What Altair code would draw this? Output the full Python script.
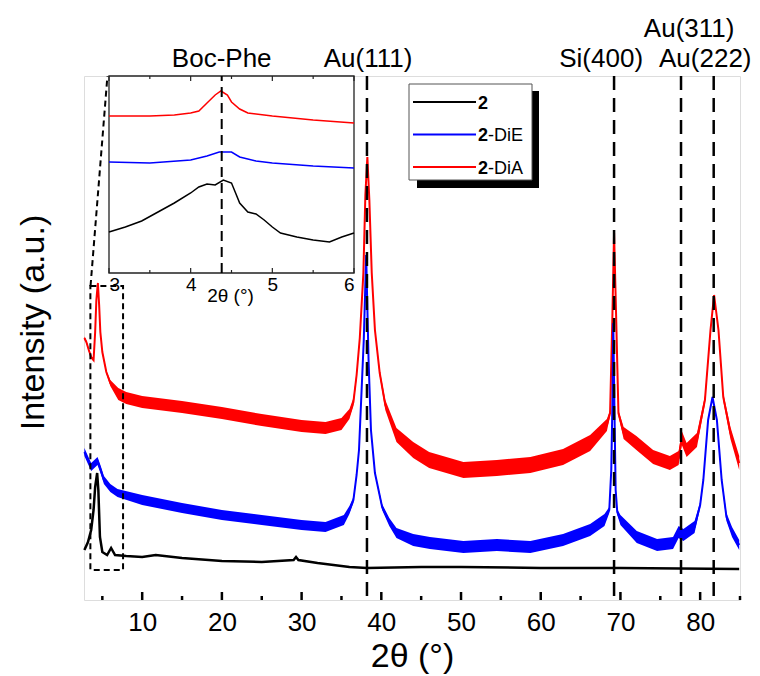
import altair as alt
import pandas as pd

FONT = "Liberation Sans"

# ---------------- main panel data (2θ in degrees, intensity in arbitrary units) ----------------
red_x = [2.75, 3.0, 3.3, 3.6, 3.9, 4.1, 4.25, 4.44, 4.6, 4.75, 5.0, 5.5, 6.0, 7.0, 8.0, 10, 15, 20, 25, 30,
         33, 35, 36.0, 36.5, 36.9, 37.3, 37.75, 38.0, 38.25, 38.5, 38.8, 39.2, 39.8, 40.5, 41.9, 44, 46,
         50.3, 54.5, 58.7, 62.8, 66.2, 68.3, 68.7, 69.0, 69.2, 69.45, 69.75, 70.4, 72, 74.1, 76.2, 77.3,
         77.7, 78.3, 79.6, 80.6, 81.3, 81.75, 82.3, 82.9, 83.8, 84.9]
red_y = [262, 258, 250, 243, 240, 268, 300, 317, 295, 268, 248, 228, 217, 206, 202, 198, 193, 187, 180, 174,
         172, 176, 186, 198, 225, 262, 327, 405, 443, 400, 327, 270, 227, 195, 165, 150, 140,
         130, 132, 135, 143, 157, 175, 187, 287, 367, 287, 187, 167, 157, 143, 137, 142,
         162, 150, 160, 200, 270, 305, 270, 203, 167, 137]
red_noise = [1.5, 1.5, 1.5, 1.5, 1.5, 1.5, 1.5, 1.5, 1.5, 1.5, 1.5, 1.5, 3, 6, 6, 6, 6, 6, 6, 6,
             6, 6, 5, 4, 3, 2, 1, 1, 1, 1, 1, 2, 3, 5, 7, 8, 8,
             8, 8, 8, 8, 8, 6, 3, 1, 1, 1, 3, 6, 7, 7, 7, 7,
             7, 7, 7, 4, 2, 1, 2, 4, 6, 7]

blue_x = [2.75, 3.2, 3.6, 4.0, 4.4, 4.8, 5.2, 6.0, 6.9, 10, 15, 20, 25, 30, 33, 35.3, 36.0, 36.5, 36.9, 37.2,
          37.5, 37.8, 38.1, 38.4, 38.7, 39.2, 40.1, 41.0, 41.9, 44, 46.1, 50.3, 54.5, 58.7, 62.8, 66.2,
          68.0, 68.6, 68.85, 69.0, 69.1, 69.25, 69.4, 69.6, 70.0, 72.05, 74.6, 76.6, 77.3, 77.9, 79.3,
          80.0, 80.4, 81.0, 81.55, 82.1, 82.7, 83.3, 84.0, 84.9]
blue_y = [148, 140, 133, 136, 139, 130, 120, 112, 107, 100, 92, 85, 80, 75, 73, 80, 90, 100, 125, 150,
          205, 260, 345, 240, 170, 127, 93, 78, 67, 60, 57, 53, 55, 53, 60, 70,
          80, 90, 130, 200, 277, 190, 110, 88, 80, 63, 55, 57, 68, 65, 73,
          95, 120, 180, 203, 180, 120, 83, 68, 55]
blue_noise = [4, 4, 4, 4, 4, 4, 4, 4, 4, 5, 5, 5, 5, 5, 5, 5, 4, 3, 2, 1,
              1, 1, 1, 1, 1, 1, 3, 4, 5, 6, 6, 6, 6, 6, 6, 6,
              6, 3, 1, 1, 1, 1, 1, 3, 5, 6, 6, 6, 6, 6, 6,
              3, 2, 1, 1, 1, 2, 4, 5, 5]

black_x = [2.75, 3.2, 3.6, 3.9, 4.1, 4.35, 4.5, 4.7, 5.0, 5.6, 6.1, 6.6, 8, 10, 11.7, 15, 20, 25, 29.0,
           29.3, 29.6, 32, 36, 38.2, 45, 50, 60, 70, 84.9]
black_y = [50, 58, 70, 90, 113, 127, 110, 63, 48, 45, 52, 45, 44, 43, 45, 42, 39, 38, 40,
           43, 40, 37, 33, 32, 33, 33, 32, 32, 31]

peak_pos = [38.2, 69.2, 77.6, 81.7]
peak_names = ["Au(111)", "Si(400)", "Au(311)", "Au(222)"]
peak_label_x = [38.33, 67.58, 78.62, 80.64]
peak_label_row = [0, 0, 1, 0]

major_ticks = [10, 20, 30, 40, 50, 60, 70, 80]
minor_ticks = [5, 15, 25, 35, 45, 55, 65, 75, 85]

zoom_box_x = [3.5, 7.6]
zoom_box_y = [30, 314]
connector_x = [3.52, 5.64]
connector_y = [314, 524]

# ---------------- inset data ----------------
ired_x = [3.0, 3.5, 3.8, 4.0, 4.1, 4.2, 4.3, 4.37, 4.45, 4.5, 4.6, 4.7, 5.0, 5.5, 6.0]
ired_y = [157, 157, 158, 160, 162, 170, 178, 182, 178, 171, 164, 160, 157, 153, 150]
iblue_x = [3.0, 3.5, 4.0, 4.2, 4.35, 4.5, 4.6, 4.8, 5.0, 5.5, 6.0]
iblue_y = [111, 110, 113, 117, 121, 121, 116, 112, 110, 107, 105]
iblack_x = [3.0, 3.2, 3.4, 3.6, 3.8, 4.0, 4.1, 4.2, 4.3, 4.4, 4.5, 4.55, 4.6, 4.7, 4.8, 4.9, 5.0,
            5.1, 5.3, 5.5, 5.7, 5.85, 6.0]
iblack_y = [41, 46, 52, 61, 70, 80, 86, 89, 88, 93, 90, 80, 70, 61, 59, 53, 46,
            40, 36, 33, 31, 36, 40]
inset_peak = [4.38]
inset_label = ["Boc-Phe"]
inset_major = [3, 4, 5, 6]
inset_minor = [3.5, 4.5, 5.5]

# ---------------- legend ----------------
legend_names = ["2", "2-DiE", "2-DiA"]
legend_bold = ["2", "2", "2"]
legend_rest = ["", "-DiE", "-DiA"]
legend_colors = ["#000000", "#0000ff", "#ff0000"]

W, H = 656, 524
IN_TOP, IN_BOT = 0, 197

# ---------------- scales & axes ----------------
xs = alt.Scale(domain=[2.7, 85], nice=False, zero=False)
ys = alt.Scale(domain=[0, H], nice=False, zero=False)
x_axis = alt.Axis(title="2θ (°)", values=major_ticks, format="d", ticks=False, tickSize=0, domain=False,
                  grid=False, labelFontSize=26, labelPadding=9, labelColor="black", labelFont=FONT,
                  titleFontSize=34, titleFontWeight="normal", titleColor="black", titleFont=FONT,
                  titleY=56, titleBaseline="middle")
y_axis = alt.Axis(title="Intensity (a.u.)", labels=False, ticks=False, domain=False, grid=False,
                  titleFontSize=34, titleFontWeight="normal", titleColor="black", titleFont=FONT,
                  titleX=-51, titleY=246, titleAngle=270, titleAlign="center", titleBaseline="middle")


def MX(f):
    return alt.X(f, type="quantitative", scale=xs, axis=x_axis)


def MY(f):
    return alt.Y(f, type="quantitative", scale=ys, axis=y_axis)


def band_df(xv, yv, nv):
    return pd.DataFrame({"x": xv, "y": yv,
                         "lo": [a - b for a, b in zip(yv, nv)],
                         "hi": [a + b for a, b in zip(yv, nv)]})


red_df = band_df(red_x, red_y, red_noise)
blue_df = band_df(blue_x, blue_y, blue_noise)
black_df = pd.DataFrame({"x": black_x, "y": black_y})

red_band = alt.Chart(red_df).mark_area(color="#ff0000").encode(x=MX("x"), y=MY("lo"), y2="hi")
red_line = alt.Chart(red_df).mark_line(color="#ff0000", strokeWidth=2).encode(x=MX("x"), y=MY("y"))
blue_band = alt.Chart(blue_df).mark_area(color="#0000ff").encode(x=MX("x"), y=MY("lo"), y2="hi")
blue_line = alt.Chart(blue_df).mark_line(color="#0000ff", strokeWidth=2).encode(x=MX("x"), y=MY("y"))
black_line = alt.Chart(black_df).mark_line(color="#000000", strokeWidth=2.5).encode(x=MX("x"), y=MY("y"))

peaks_df = pd.DataFrame({"x": peak_pos})
peak_rules = alt.Chart(peaks_df).mark_rule(color="black", strokeWidth=2.5, strokeDash=[14, 8]).encode(x=MX("x"))

lab_df = pd.DataFrame({"x": peak_label_x, "name": peak_names, "row": peak_label_row})
lab_low = alt.Chart(lab_df[lab_df.row == 0]).mark_text(fontSize=26, font=FONT, color="black",
                                                       baseline="alphabetic", align="center").encode(
    x=MX("x"), y=alt.value(-9), text="name:N")
lab_high = alt.Chart(lab_df[lab_df.row == 1]).mark_text(fontSize=26, font=FONT, color="black",
                                                        baseline="alphabetic", align="center").encode(
    x=MX("x"), y=alt.value(-39), text="name:N")

box_df = pd.DataFrame({"x": [zoom_box_x[0]], "x2": [zoom_box_x[1]], "y": [zoom_box_y[0]], "y2": [zoom_box_y[1]]})
zoom_box = alt.Chart(box_df).mark_rect(fillOpacity=0, stroke="black", strokeWidth=2,
                                       strokeDash=[6, 4]).encode(x=MX("x"), x2="x2", y=MY("y"), y2="y2")
conn_df = pd.DataFrame({"x": [connector_x[0]], "x2": [connector_x[1]], "y": [connector_y[0]], "y2": [connector_y[1]]})
connector = alt.Chart(conn_df).mark_rule(color="black", strokeWidth=2, strokeDash=[6, 4]).encode(
    x=MX("x"), x2="x2", y=MY("y"), y2="y2")

maj_df = pd.DataFrame({"x": major_ticks})
min_df = pd.DataFrame({"x": minor_ticks})
maj_ticks = alt.Chart(maj_df).mark_rule(color="black", strokeWidth=2.5).encode(
    x=MX("x"), y=alt.value(H), y2=alt.value(H - 8))
min_ticks = alt.Chart(min_df).mark_rule(color="black", strokeWidth=2.5).encode(
    x=MX("x"), y=alt.value(H), y2=alt.value(H - 4))

main = alt.layer(black_line, red_band, red_line, blue_band, blue_line, zoom_box, connector,
                 maj_ticks, min_ticks, peak_rules, lab_low, lab_high)

# ---------------- inset ----------------
ixs = alt.Scale(domain=[3, 6], range=[25, 270], nice=False, zero=False)
iys = alt.Scale(domain=[0, 197], range=[IN_BOT, IN_TOP], nice=False, zero=False)
ix_axis = alt.Axis(orient="bottom", offset=-(H - IN_BOT), values=inset_major, format="d", ticks=False,
                   tickSize=0, domain=False, grid=False, labelFontSize=19, labelPadding=2,
                   labelColor="black", labelFont=FONT, title="2θ (°)", titleFontSize=19,
                   titleFontWeight="normal", titleColor="black", titleFont=FONT,
                   titleX=146, titleY=22, titleBaseline="middle")


def IX(f):
    return alt.X(f, type="quantitative", scale=ixs, axis=ix_axis)


def IY(f):
    return alt.Y(f, type="quantitative", scale=iys, axis=None)


frame_df = pd.DataFrame({"x": [3], "x2": [6], "y": [0], "y2": [197]})
frame = alt.Chart(frame_df).mark_rect(fill="white", stroke="#222222", strokeWidth=1.3).encode(
    x=IX("x"), x2="x2", y=IY("y"), y2="y2")
ired = alt.Chart(pd.DataFrame({"x": ired_x, "y": ired_y})).mark_line(color="#ff0000", strokeWidth=1.5).encode(
    x=IX("x"), y=IY("y"))
iblue = alt.Chart(pd.DataFrame({"x": iblue_x, "y": iblue_y})).mark_line(color="#0000ff", strokeWidth=1.5).encode(
    x=IX("x"), y=IY("y"))
iblack = alt.Chart(pd.DataFrame({"x": iblack_x, "y": iblack_y})).mark_line(color="#000000", strokeWidth=1.5).encode(
    x=IX("x"), y=IY("y"))
ipeak_df = pd.DataFrame({"x": inset_peak, "y": [0], "y2": [197], "name": inset_label})
ipeak = alt.Chart(ipeak_df).mark_rule(color="black", strokeWidth=2, strokeDash=[10, 6]).encode(
    x=IX("x"), y=IY("y"), y2="y2")
ilabel = alt.Chart(ipeak_df).mark_text(fontSize=26, font=FONT, color="black", baseline="alphabetic",
                                       align="center").encode(x=IX("x"), y=alt.value(-9), text="name:N")
imaj = pd.DataFrame({"x": inset_major})
imin = pd.DataFrame({"x": inset_minor})
itick_b1 = alt.Chart(imaj).mark_rule(color="#222222", strokeWidth=1.2).encode(
    x=IX("x"), y=alt.value(IN_BOT), y2=alt.value(IN_BOT - 5))
itick_b2 = alt.Chart(imin).mark_rule(color="#222222", strokeWidth=1.2).encode(
    x=IX("x"), y=alt.value(IN_BOT), y2=alt.value(IN_BOT - 3))
itick_t1 = alt.Chart(imaj).mark_rule(color="#222222", strokeWidth=1.2).encode(
    x=IX("x"), y=alt.value(IN_TOP), y2=alt.value(IN_TOP + 5))
itick_t2 = alt.Chart(imin).mark_rule(color="#222222", strokeWidth=1.2).encode(
    x=IX("x"), y=alt.value(IN_TOP), y2=alt.value(IN_TOP + 3))

inset = alt.layer(frame, iblack, iblue, ired, ipeak, itick_b1, itick_b2, itick_t1, itick_t2, ilabel)

# ---------------- legend ----------------
leg_df = pd.DataFrame({"row": [0, 1, 2], "name": legend_names, "bold": legend_bold,
                       "rest": legend_rest})
ly = alt.Y("row:Q", scale=alt.Scale(domain=[0, 2], range=[26, 91], nice=False, zero=False), axis=None)
one = pd.DataFrame({"k": [0]})
shadow = alt.Chart(one).mark_rect(fill="black").encode(
    x=alt.value(333), x2=alt.value(455), y=alt.value(15), y2=alt.value(112))
lbox = alt.Chart(one).mark_rect(fill="white", stroke="#555555", strokeWidth=1).encode(
    x=alt.value(325), x2=alt.value(448), y=alt.value(8), y2=alt.value(104))
llines = alt.Chart(leg_df).mark_rule(strokeWidth=2).encode(
    x=alt.value(329), x2=alt.value(392), y=ly,
    color=alt.Color("name:N", scale=alt.Scale(domain=legend_names, range=legend_colors), legend=None))
lbold = alt.Chart(leg_df).mark_text(fontSize=18, font=FONT, fontWeight="bold", color="black",
                                    align="left", baseline="alphabetic", dy=6.5).encode(
    x=alt.value(394), y=ly, text="bold:N")
lrest = alt.Chart(leg_df).mark_text(fontSize=18, font=FONT, color="black",
                                    align="left", baseline="alphabetic", dy=6.5).encode(
    x=alt.value(404), y=ly, text="rest:N")
legend = alt.layer(shadow, lbox, llines, lbold, lrest)

chart = alt.layer(main, inset, legend).resolve_scale(
    x="independent", y="independent", color="independent"
).properties(
    width=W, height=H,
    padding={"left": 76, "top": 68, "right": 12, "bottom": 76},
    autosize=alt.AutoSizeParams(type="none"),
    background="white",
).configure_view(stroke="black", strokeWidth=3).configure(font=FONT)

chart.save("out.html", embed_options={"renderer": "svg", "actions": False})
